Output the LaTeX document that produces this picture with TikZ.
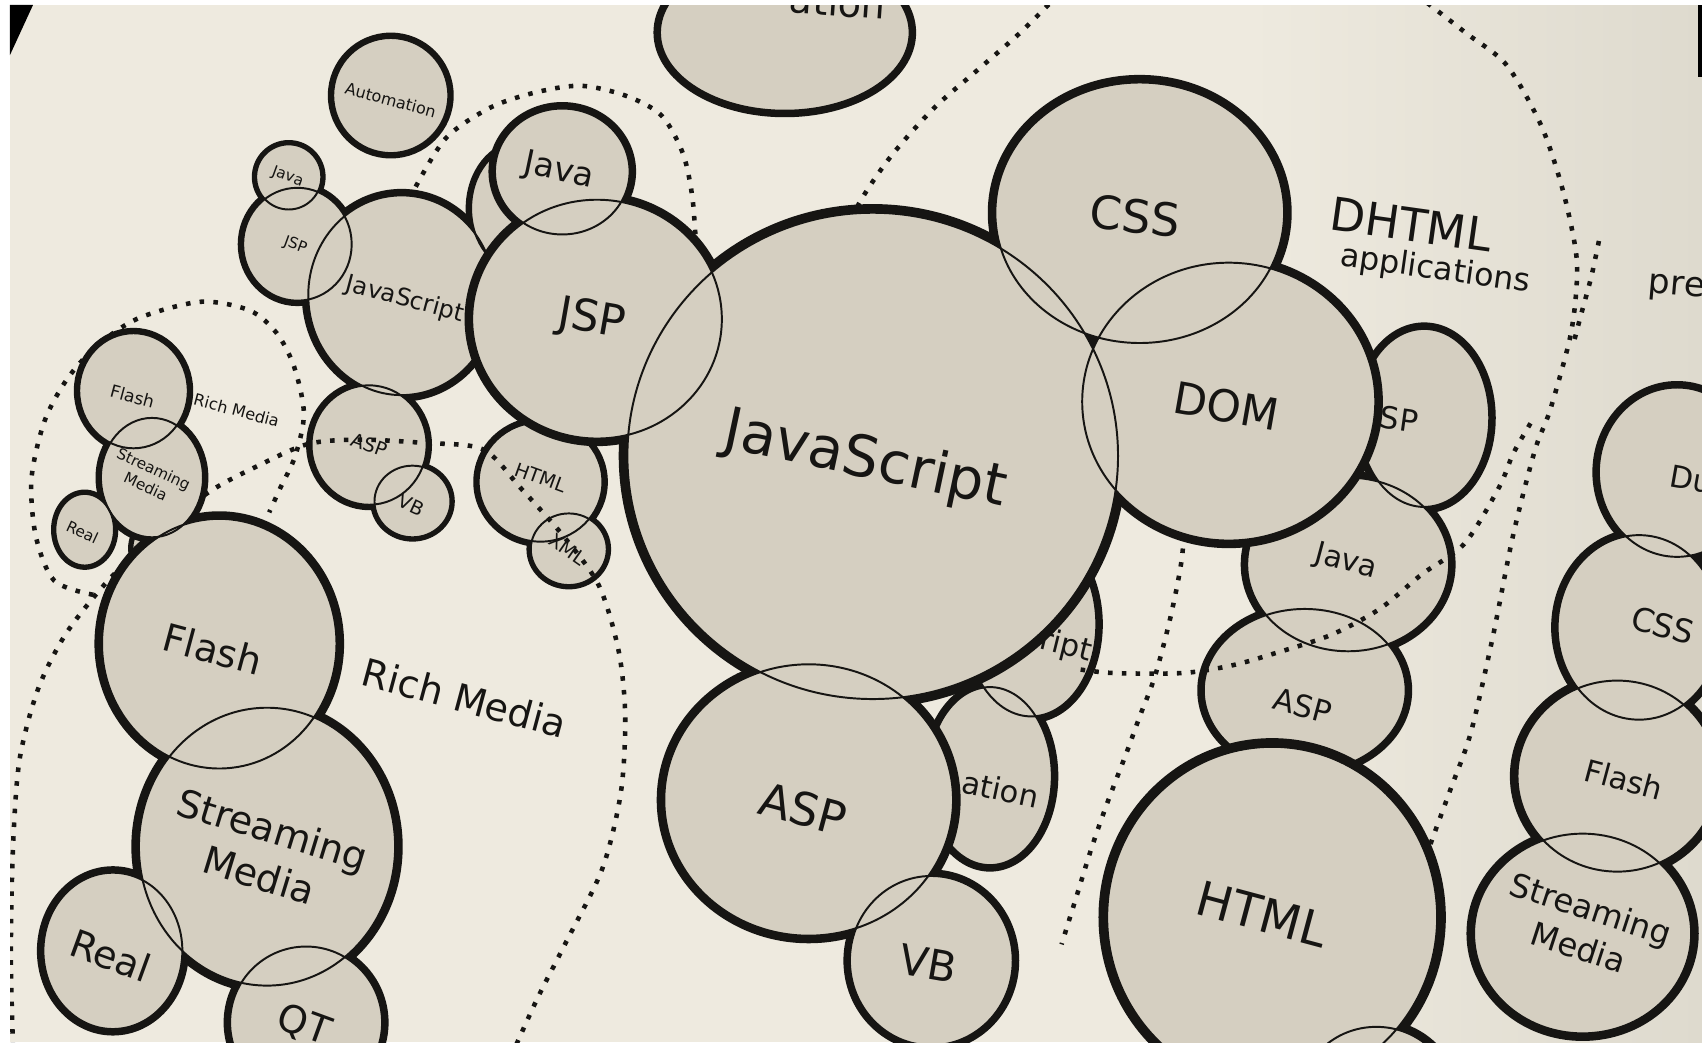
\documentclass[tikz,border=0pt]{standalone}
\usepackage{fontspec}
\setmainfont{DejaVu Sans}
\definecolor{paper}{RGB}{238,234,223}
\definecolor{paperdark}{RGB}{222,218,206}
\definecolor{bubblefill}{RGB}{213,207,193}
\definecolor{ink}{RGB}{22,21,19}
\tikzset{myedge/.style={ink}}
\tikzset{myfill/.style={bubblefill}}
\tikzset{mylens/.style={ink,line width=0.18mm}}
\tikzset{mydots/.style={ink,line width=0.42mm,dash pattern=on 0.42mm off 0.85mm}}
\tikzset{mynode/.style={ink,inner sep=0pt,align=center,font=\fontsize{#1}{\fpeval{1.25*#1}}\selectfont}}
% thick outer rim, fill, then thin rims where bubbles overlap
\newcommand{\bubblegroup}[1]{%
  \foreach \cx/\cy/\rx/\ry/\w in {#1}
    \draw[myedge,line width=\w*0.2mm] (\cx,\cy) ellipse [x radius=\rx, y radius=\ry];
  \foreach \cx/\cy/\rx/\ry/\w in {#1}
    \fill[myfill] (\cx,\cy) ellipse [x radius=\rx, y radius=\ry];
  \foreach \cx/\cy/\rx/\ry/\w in {#1}
    \draw[mylens] (\cx,\cy) ellipse [x radius=\rx, y radius=\ry];
}

\begin{document}
\begin{tikzpicture}[x=0.1mm,y=-0.1mm]
	\useasboundingbox (0,0) rectangle (1568,960);
	\clip (0,0) rectangle (1568,960);

	\fill[paper] (0,0) rectangle (1568,960);
	\shade[left color=paper,right color=paperdark] (1150,0) rectangle (1568,960);

	% bubbles lying underneath
	\bubblegroup{1312/385/60/82/6, 1242/520/93/80/6, 1202/636/93/75/6,
		950/575/60/85/6, 912/715/57/82/6, 480/192/46/58/5,
		370/272/86/92/6, 274/225/50/52/5, 266/163/30/30/4,
		340/410/53/55/5, 380/462/35/33/4, 498/444/57/55/5,
		524/506/35/33/4, 150/505/28/28/4}

	% group outlines
	\draw[mydots] plot[smooth] coordinates {(383,172) (411,127) (452,99) (494,85) (535,79) (576,88) (609,106) (629,141) (638,183) (642,240)};
	\draw[mydots] plot[smooth] coordinates {(12,965) (10,880) (12,780) (18,700) (35,635) (60,585) (95,540) (130,505) (190,455) (240,428) (284,409) (330,405) (390,408) (445,414) (480,450) (520,495) (552,540) (570,600) (576,660) (572,730) (555,800) (522,867) (495,920) (470,975)};
	\draw[mydots] plot[smooth] coordinates {(86,548) (50,535) (33,494) (29,441) (41,388) (62,349) (90,318) (128,293) (185,278) (230,286) (255,307) (271,338) (280,381) (272,420) (258,450) (248,472)};
	\draw[mydots] plot[smooth] coordinates {(975,-5) (940,30) (900,65) (860,100) (820,145) (790,190) (775,230)};
	\draw[mydots] plot[smooth] coordinates {(1092,480) (1088,520) (1078,570) (1064,623) (1050,660) (1038,693) (1020,740) (1006,780) (992,825) (978,870)};
	\draw[mydots] plot[smooth] coordinates {(1305,-5) (1350,30) (1388,60) (1420,116) (1440,176) (1452,233) (1452,270) (1446,313) (1428,378) (1414,415) (1394,493) (1375,588) (1355,675) (1336,728) (1317,780) (1300,830)};
	\draw[mydots] plot[smooth] coordinates {(1410,390) (1394,418) (1381,449) (1349,501) (1310,529) (1271,561) (1226,585) (1174,602) (1135,613) (1090,620) (1025,620) (990,616)};
	\draw[mydots] plot[smooth] coordinates {(1473,222) (1466,255) (1456,292) (1450,315)};

	% bubbles on top
	\bubblegroup{804/420/226/224/8, 1050/196/133/120/7, 1132/370/135/128/7,
		745/737/133/125/7, 858/885/75/78/6, 1172/845/152/157/8,
		1268/1012/70/66/7, 550/294/115/110/7, 518/158/62/58/6,
		360/88/53/53/5, 723/30/115/72/6,
		123/360/50/53/5, 140/440/47/55/5, 78/488/27/33/4,
		202/593/108/115/7, 246/780/118/128/7, 104/876/64/72/6, 282/942/70/70/6,
		1545/435/72/78/6, 1510/578/75/85/6, 1490/715/92/88/7, 1458/860/100/92/7}

	% labels
	\node[mynode=15,rotate=-12] (lJavaScript) at (797,425) {JavaScript};
	\node[mynode=12,rotate=-6] (lCSS) at (1046,199) {CSS};
	\node[mynode=11.5,rotate=-10] (lDOM) at (1130,374) {DOM};
	\node[mynode=8,rotate=-8] (lJSPback) at (1289,386) {SP};
	\node[mynode=12,rotate=-8] (lDHTML) at (1300,207) {DHTML};
	\node[mynode=8.3,rotate=-8] (lApps) at (1322,249) {applications};
	\node[mynode=9,rotate=-5,anchor=west] (lPre) at (1518,264) {pre};
	\node[mynode=7.8,rotate=-15] (lJavaR) at (1240,518) {Java};
	\node[mynode=8,rotate=-15] (lASPR) at (1200,650) {ASP};
	\node[mynode=12.5,rotate=-15] (lHTML) at (1163,842) {HTML};
	\node[mynode=8,rotate=-14,anchor=west] (lScriptBack) at (958,590) {ript};
	\node[mynode=8,rotate=-12] (lAutoBack) at (922,727) {ation};
	\node[mynode=10,rotate=-4,anchor=base] (lTop) at (771,15) {ation};
	\node[mynode=12,rotate=-15] (lASP) at (740,745) {ASP};
	\node[mynode=11,rotate=-10] (lVB) at (855,888) {VB};
	\node[mynode=11.5,rotate=-10] (lJSP) at (545,295) {JSP};
	\node[mynode=8.7,rotate=-12] (lJava) at (515,158) {Java};
	\node[mynode=6.3,rotate=-15] (lJavaScriptSm) at (373,276) {JavaScript};
	\node[mynode=4,rotate=-20] (lJSPSm) at (272,226) {JSP};
	\node[mynode=4,rotate=-20] (lJavaSm) at (265,163) {Java};
	\node[mynode=4.2,rotate=-15] (lAutoSm) at (360,92) {Automation};
	\node[mynode=5,rotate=-20] (lASPSm) at (340,410) {ASP};
	\node[mynode=5,rotate=-25] (lVBSm) at (379,465) {VB};
	\node[mynode=5,rotate=-20] (lHTMLSm) at (498,440) {HTML};
	\node[mynode=5,rotate=-35] (lXML) at (523,506) {XML};
	\node[mynode=4.5,rotate=-15] (lFlashSm) at (122,365) {Flash};
	\node[mynode=4.2,rotate=-15] (lRichSm) at (218,378) {Rich Media};
	\node[mynode=4,rotate=-25] (lStreamSm) at (138,440) {Streaming\\Media};
	\node[mynode=4,rotate=-25] (lRealSm) at (76,490) {Real};
	\node[mynode=10,rotate=-15] (lFlash) at (196,598) {Flash};
	\node[mynode=10,rotate=-17] (lStream) at (245,785) {Streaming\\Media};
	\node[mynode=10,rotate=-20] (lReal) at (102,880) {Real};
	\node[mynode=10,rotate=-20] (lQT) at (280,945) {QT};
	\node[mynode=10,rotate=-15] (lRich) at (428,643) {Rich Media};
	\node[mynode=8,rotate=-10,anchor=west] (lDu) at (1538,438) {Du};
	\node[mynode=8.5,rotate=-15] (lCSSR) at (1532,576) {CSS};
	\node[mynode=8,rotate=-15] (lFlashR) at (1496,718) {Flash};
	\node[mynode=8.5,rotate=-18] (lStreamR) at (1460,855) {Streaming\\Media};

	% photo edge
	\fill[white] (0,0) rectangle (1568,4.6) (0,0) rectangle (9.2,960);
	\fill[black] (9.2,4.6) -- (30.4,4.6) -- (9.2,50.7) -- cycle;
	\fill[black] (1564,4.6) rectangle (1568,71);
\end{tikzpicture}
\end{document}
